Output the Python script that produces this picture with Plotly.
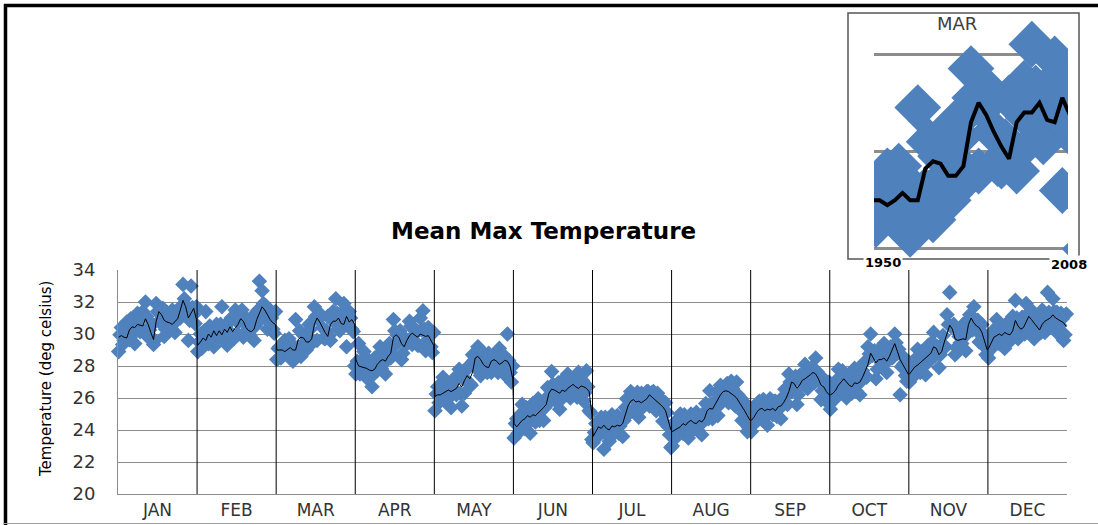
import plotly.graph_objects as go

# ---- data: monthly mean max temperature (deg C), 1950-2008 ----
# *_even: 1950, 1952, ..., 2008   *_odd: 1951, 1953, ..., 2007   *_avg: running mean at even years
years_even = list(range(1950, 2009, 2))
years_odd = list(range(1951, 2008, 2))
months = ["JAN", "FEB", "MAR", "APR", "MAY", "JUN", "JUL", "AUG", "SEP", "OCT", "NOV", "DEC"]

jan_even = [28.9, 30.4, 29.6, 30.75, 29.65, 30.65, 29.4, 31.3, 30.15, 31.4, 32.0, 29.8, 30.5, 29.35, 31.9,
            30.8, 31.4, 29.85, 31.35, 30.5, 31.5, 30.1, 31.25, 31.0, 33.1, 31.6, 29.6, 33.0, 31.2, 31.7]
jan_odd = [29.95, 29.35, 30.3, 29.9, 30.95, 30.0, 30.7, 30.4, 31.0, 30.2, 31.1, 30.25, 30.6, 29.6, 31.4,
           31.3, 31.6, 30.3, 30.9, 30.35, 31.2, 30.8, 31.6, 31.2, 32.2, 31.75, 30.85, 31.65, 30.65]
jan_avg = [29.8, 29.9, 29.8, 29.75, 30.25, 30.45, 30.4, 30.6, 30.55, 30.5, 30.95, 30.6, 30.1, 29.65, 30.8,
           31.4, 31.2, 30.85, 30.75, 30.7, 30.6, 30.8, 30.95, 31.5, 32.1, 31.7, 31.0, 31.3, 31.6, 30.9]

feb_even = [28.9, 30.0, 29.55, 31.4, 29.4, 30.0, 29.2, 30.6, 29.8, 31.7, 30.3, 29.3, 30.85, 29.85, 31.5,
            30.0, 31.15, 29.8, 31.0, 30.0, 31.05, 29.6, 31.2, 33.3, 32.7, 31.4, 30.3, 31.4, 30.3, 31.4]
feb_odd = [29.5, 29.1, 30.2, 29.7, 30.5, 29.6, 30.25, 29.85, 30.6, 29.6, 30.5, 30.2, 31.0, 29.7, 30.8,
           30.8, 31.5, 30.1, 30.5, 29.9, 30.7, 30.5, 31.5, 30.9, 31.9, 31.75, 30.75, 31.0, 30.05]
feb_avg = [29.3, 29.5, 29.75, 29.6, 30.0, 29.8, 30.2, 29.9, 30.2, 29.95, 30.3, 30.1, 30.45, 30.15, 30.4,
           30.6, 30.95, 30.8, 30.4, 30.2, 30.15, 30.3, 30.9, 31.35, 31.7, 31.5, 31.2, 30.9, 30.7, 30.6]

mar_even = [28.4, 29.2, 28.6, 29.6, 28.9, 29.4, 28.3, 30.9, 29.2, 28.6, 29.9, 29.0, 30.6, 29.4, 31.7,
            29.6, 31.0, 30.4, 29.7, 31.1, 29.6, 31.4, 32.2, 30.3, 31.3, 31.9, 29.2, 31.4, 30.3, 28.0]
mar_odd = [29.1, 28.5, 29.45, 28.85, 29.7, 28.7, 29.2, 29.1, 30.2, 29.3, 29.9, 29.4, 30.3, 29.55, 31.1,
           30.9, 31.2, 29.75, 30.2, 29.9, 31.2, 30.7, 31.3, 30.2, 30.9, 31.25, 30.6, 31.0, 30.15]
mar_avg = [29.0, 29.0, 29.0, 28.9, 29.0, 29.15, 29.0, 29.0, 29.65, 29.8, 29.75, 29.5, 29.5, 29.7, 30.6,
           31.0, 30.75, 30.4, 30.1, 29.85, 30.6, 30.8, 30.8, 31.0, 30.65, 30.6, 31.1, 30.75, 30.9, 30.6]

apr_even = [27.5, 29.4, 27.75, 28.9, 27.25, 27.95, 26.7, 28.5, 27.7, 29.2, 28.4, 27.5, 29.0, 28.5, 30.9,
            29.35, 30.0, 28.4, 29.8, 29.4, 30.8, 29.35, 30.2, 29.3, 31.0, 31.45, 28.95, 30.4, 29.2, 30.1]
apr_odd = [28.3, 27.5, 28.4, 27.8, 28.4, 27.3, 27.95, 27.75, 28.7, 27.85, 28.65, 28.35, 29.4, 28.7, 30.2,
           29.9, 30.2, 28.8, 29.6, 29.45, 30.5, 29.9, 30.25, 29.3, 30.25, 30.3, 29.6, 29.95, 28.85]
apr_avg = [28.4, 28.0, 27.95, 27.9, 27.85, 27.75, 27.7, 27.8, 28.1, 28.3, 28.4, 28.3, 28.6, 28.8, 29.8,
           29.95, 29.8, 29.4, 29.2, 29.6, 29.9, 30.05, 29.9, 29.8, 30.0, 29.9, 29.85, 29.9, 29.6, 29.3]

may_even = [25.2, 26.7, 26.0, 27.3, 25.75, 26.7, 25.4, 27.2, 26.2, 27.8, 25.5, 26.3, 27.8, 26.9, 28.7,
            27.9, 29.2, 27.4, 28.7, 27.75, 28.8, 27.6, 28.7, 27.8, 29.1, 28.1, 27.45, 30.0, 27.6, 28.0]
may_odd = [26.25, 25.7, 26.75, 26.2, 27.0, 26.05, 26.65, 26.35, 27.25, 26.3, 27.2, 27.15, 28.0, 26.8, 28.35,
           28.55, 29.1, 27.75, 28.2, 27.6, 28.6, 28.25, 28.75, 27.6, 28.45, 28.7, 28.0, 28.35, 27.0]
may_avg = [26.1, 26.2, 26.2, 26.3, 26.35, 26.5, 26.4, 26.5, 26.6, 26.9, 26.7, 27.1, 27.4, 27.2, 27.6,
           28.5, 28.6, 28.4, 28.1, 27.95, 27.9, 28.3, 28.4, 28.3, 28.1, 28.2, 28.35, 28.3, 28.0, 27.2]

jun_even = [23.5, 24.7, 24.2, 25.6, 24.1, 25.1, 23.8, 25.65, 24.5, 25.95, 25.2, 24.6, 26.0, 26.0, 27.65,
            25.9, 26.6, 25.3, 27.1, 26.2, 27.5, 26.0, 27.15, 26.2, 27.6, 26.65, 25.8, 27.7, 25.2, 23.4]
jun_odd = [24.4, 23.8, 25.0, 24.55, 25.4, 24.45, 25.1, 24.7, 25.5, 24.6, 25.6, 25.4, 26.65, 25.8, 26.85,
           26.45, 26.95, 25.9, 26.65, 26.2, 27.15, 26.7, 27.2, 26.05, 27.0, 27.1, 26.35, 26.7, 25.1]
jun_avg = [24.4, 24.2, 24.4, 24.6, 24.7, 24.9, 24.8, 24.95, 24.9, 25.05, 25.2, 25.4, 25.6, 26.3, 26.55,
           26.5, 26.4, 26.3, 26.5, 26.4, 26.6, 26.7, 26.85, 26.7, 26.6, 26.75, 26.7, 26.6, 26.4, 25.0]

jul_even = [23.2, 24.4, 24.0, 24.8, 22.8, 24.3, 23.3, 24.95, 23.8, 24.9, 24.25, 23.6, 25.4, 25.2, 26.4,
            25.3, 25.95, 24.8, 26.3, 25.65, 26.4, 25.5, 26.35, 25.4, 26.3, 25.5, 24.55, 25.7, 24.2, 22.9]
jul_odd = [23.85, 23.55, 24.65, 24.1, 24.8, 23.65, 24.3, 24.0, 24.75, 23.8, 24.6, 24.6, 25.95, 25.05, 26.15,
           25.85, 26.35, 25.25, 25.95, 25.6, 26.4, 26.0, 26.4, 25.2, 26.0, 25.9, 25.0, 25.1, 23.7]
jul_avg = [23.6, 23.9, 24.2, 24.1, 24.3, 24.1, 24.0, 24.25, 24.2, 24.3, 24.25, 24.4, 25.0, 25.5, 25.8,
           25.9, 25.75, 25.8, 25.7, 25.85, 25.95, 26.2, 26.05, 25.9, 25.75, 25.6, 25.45, 25.2, 24.6, 24.0]

aug_even = [23.0, 24.5, 23.9, 25.0, 23.8, 24.5, 23.5, 25.0, 24.05, 25.1, 24.6, 23.7, 25.1, 24.9, 26.45,
            24.7, 25.8, 24.9, 26.8, 26.2, 26.8, 25.7, 27.05, 25.65, 27.0, 25.65, 24.6, 25.7, 23.9, 25.4]
aug_odd = [24.05, 23.55, 24.65, 24.2, 24.95, 24.0, 24.75, 24.35, 24.9, 24.0, 24.85, 24.5, 25.65, 24.7, 25.6,
           25.45, 26.35, 25.55, 26.5, 26.1, 26.9, 26.25, 26.6, 25.5, 26.2, 26.0, 25.05, 25.25, 24.15]
aug_avg = [23.9, 24.0, 24.1, 24.2, 24.4, 24.3, 24.5, 24.6, 24.45, 24.4, 24.6, 24.5, 24.7, 25.2, 25.35,
           25.3, 25.6, 25.9, 26.2, 26.4, 26.45, 26.4, 26.3, 26.15, 26.0, 25.75, 25.5, 25.2, 24.9, 24.6]

sep_even = [23.9, 25.3, 24.9, 25.8, 24.75, 25.4, 24.3, 25.95, 24.95, 25.8, 25.45, 24.7, 26.1, 25.7, 27.5,
            26.4, 27.1, 25.6, 27.4, 26.9, 28.1, 26.6, 27.75, 27.1, 28.5, 27.1, 25.9, 27.2, 26.0, 27.0]
sep_odd = [24.8, 24.45, 25.7, 25.2, 25.9, 24.85, 25.5, 25.1, 25.8, 24.85, 25.8, 25.5, 26.55, 25.6, 27.0,
           26.95, 27.35, 26.2, 27.15, 26.85, 27.75, 27.3, 27.9, 26.95, 27.65, 27.4, 26.45, 26.75, 25.7]
sep_avg = [24.6, 24.8, 25.1, 25.3, 25.35, 25.2, 25.3, 25.25, 25.35, 25.2, 25.45, 25.5, 25.7, 26.0, 26.4,
           27.0, 26.9, 26.6, 26.8, 27.1, 27.2, 27.3, 27.45, 27.6, 27.5, 27.2, 26.8, 26.7, 26.4, 26.2]

oct_even = [25.3, 26.8, 26.3, 27.8, 26.4, 27.4, 26.0, 27.5, 26.3, 27.85, 26.9, 26.2, 27.7, 27.4, 29.2,
            30.0, 28.7, 27.2, 29.0, 28.2, 29.4, 27.6, 28.9, 28.5, 30.0, 28.8, 26.2, 28.6, 27.4, 28.3]
oct_odd = [26.35, 25.9, 27.15, 26.8, 27.7, 26.7, 27.1, 26.55, 27.3, 26.45, 27.25, 27.05, 28.2, 27.3, 28.75,
           28.65, 28.95, 27.8, 28.6, 28.15, 28.9, 28.35, 29.2, 28.6, 29.45, 29.05, 27.95, 28.15, 27.05]
oct_avg = [26.2, 26.3, 26.5, 26.8, 27.0, 27.2, 27.0, 26.8, 26.7, 26.95, 26.9, 27.0, 27.3, 27.7, 28.1,
           28.8, 28.5, 28.2, 28.4, 28.4, 28.5, 28.3, 28.6, 29.0, 29.4, 28.9, 28.4, 28.1, 27.8, 27.5]

nov_even = [27.0, 28.2, 27.75, 29.05, 27.6, 28.55, 27.45, 29.3, 28.4, 30.1, 29.1, 27.9, 29.3, 29.2, 31.2,
            32.6, 30.5, 28.7, 30.2, 29.45, 30.6, 28.95, 30.9, 30.5, 31.7, 30.4, 29.5, 30.6, 29.2, 29.8]
nov_odd = [27.7, 27.35, 28.5, 28.0, 28.9, 28.0, 28.75, 28.5, 29.5, 28.65, 29.2, 28.7, 29.9, 29.2, 30.6,
           30.45, 30.6, 29.15, 29.85, 29.4, 30.2, 30.0, 31.2, 30.25, 30.9, 30.85, 29.95, 30.05, 28.7]
nov_avg = [27.5, 27.7, 27.95, 28.05, 28.2, 28.35, 28.45, 28.6, 28.8, 29.2, 29.1, 28.7, 28.9, 29.5, 30.1,
           30.55, 30.3, 29.7, 29.6, 29.65, 29.7, 29.65, 30.6, 31.0, 30.7, 30.5, 30.4, 30.1, 29.6, 29.0]

dec_even = [28.5, 30.0, 29.6, 30.9, 29.4, 30.1, 29.1, 30.7, 29.55, 31.1, 32.1, 29.7, 30.7, 30.1, 31.9,
            30.5, 31.1, 29.7, 31.1, 30.05, 31.5, 30.1, 32.6, 30.5, 32.2, 30.9, 30.0, 31.3, 29.6, 31.25]
dec_odd = [29.4, 29.15, 30.35, 29.85, 30.55, 29.6, 30.25, 29.8, 30.6, 30.0, 31.0, 30.3, 31.05, 30.0, 31.25,
           31.0, 31.4, 30.1, 30.6, 30.1, 31.2, 30.75, 31.35, 30.5, 31.4, 31.35, 30.55, 30.95, 29.95]
dec_avg = [29.1, 29.5, 29.8, 29.9, 30.0, 29.9, 30.1, 30.0, 29.95, 30.2, 30.85, 30.5, 30.3, 30.4, 30.8,
           31.1, 30.9, 30.7, 30.5, 30.25, 30.6, 30.8, 30.9, 31.0, 31.2, 31.0, 30.9, 30.8, 30.7, 30.45]

month_even = [jan_even, feb_even, mar_even, apr_even, may_even, jun_even,
              jul_even, aug_even, sep_even, oct_even, nov_even, dec_even]
month_odd = [jan_odd, feb_odd, mar_odd, apr_odd, may_odd, jun_odd,
             jul_odd, aug_odd, sep_odd, oct_odd, nov_odd, dec_odd]
month_avg = [jan_avg, feb_avg, mar_avg, apr_avg, may_avg, jun_avg,
             jul_avg, aug_avg, sep_avg, oct_avg, nov_avg, dec_avg]

# ---- styling ----
W, H = 1098, 525
BLUE = "#4F81BD"
GRID = "#8c8c8c"
FONT = "DejaVu Sans"
FIRST, LAST = years_even[0], years_even[-1]
N_YEARS = LAST - FIRST + 1


def fx(px):
    return px / W


def fy(px):
    return 1 - px / H


def by_year(even, odd):
    """Merge the even- and odd-year lists into (year, value) pairs."""
    return list(zip(years_even, even)) + list(zip(years_odd, odd))


def month_x(m, year):
    """Each month occupies one unit of the x axis; its years run left to right."""
    return m + (year - FIRST + 0.5) / N_YEARS


x_pts, y_pts, x_avg, y_avg = [], [], [], []
for m in range(12):
    for yr, v in by_year(month_even[m], month_odd[m]):
        x_pts.append(month_x(m, yr))
        y_pts.append(v)
    for yr, v in zip(years_even, month_avg[m]):
        x_avg.append(month_x(m, yr))
        y_avg.append(v)

mar_pairs = sorted(by_year(mar_even, mar_odd))

fig = go.Figure()

fig.add_trace(go.Scatter(
    x=x_pts, y=y_pts, mode="markers", cliponaxis=False,
    marker=dict(symbol="diamond", size=12, color=BLUE, line=dict(width=0)),
    xaxis="x", yaxis="y", hoverinfo="skip"))
fig.add_trace(go.Scatter(
    x=x_avg, y=y_avg, mode="lines",
    line=dict(color="black", width=1),
    xaxis="x", yaxis="y", hoverinfo="skip"))

# inset: March across the years
fig.add_trace(go.Scatter(
    x=[p[0] for p in mar_pairs], y=[p[1] for p in mar_pairs], mode="markers",
    marker=dict(symbol="diamond", size=36, color=BLUE, line=dict(width=0)),
    xaxis="x2", yaxis="y2", hoverinfo="skip"))
fig.add_trace(go.Scatter(
    x=years_even, y=mar_avg, mode="lines",
    line=dict(color="black", width=4),
    xaxis="x2", yaxis="y2", hoverinfo="skip"))

shapes = []
# month separators
for k in range(1, 12):
    shapes.append(dict(type="line", xref="x", yref="y", x0=k, x1=k, y0=20, y1=34.25,
                       line=dict(color="black", width=1), layer="above"))
# inset frame
shapes.append(dict(type="rect", xref="paper", yref="paper",
                   x0=fx(848), x1=fx(1079), y0=fy(259), y1=fy(13),
                   line=dict(color="#555555", width=1.5), layer="above"))
# outer frame
shapes.append(dict(type="line", xref="paper", yref="paper", x0=fx(4), x1=1, y0=fy(5.5), y1=fy(5.5),
                   line=dict(color="black", width=3.5)))
shapes.append(dict(type="line", xref="paper", yref="paper", x0=fx(5.5), x1=fx(5.5), y0=0, y1=fy(4),
                   line=dict(color="black", width=3.5)))
shapes.append(dict(type="line", xref="paper", yref="paper", x0=fx(4), x1=1, y0=fy(523.5), y1=fy(523.5),
                   line=dict(color="#a0a0a0", width=1)))

annotations = [
    dict(text="<b>Mean Max Temperature</b>", x=fx(543), y=fy(231), xref="paper", yref="paper",
         xanchor="center", yanchor="middle", showarrow=False,
         font=dict(family=FONT, size=23, color="black")),
    dict(text="Temperature (deg celsius)", x=fx(46), y=fy(379), xref="paper", yref="paper",
         xanchor="center", yanchor="middle", showarrow=False, textangle=-90,
         font=dict(family=FONT, size=15, color="black")),
    dict(text="MAR", x=fx(957), y=fy(23), xref="paper", yref="paper",
         xanchor="center", yanchor="middle", showarrow=False,
         font=dict(family=FONT, size=18, color="#404040")),
    dict(text="<b>1950</b>", x=fx(883), y=fy(262), xref="paper", yref="paper",
         xanchor="center", yanchor="middle", showarrow=False, bgcolor="white",
         font=dict(family=FONT, size=13, color="black")),
    dict(text="<b>2008</b>", x=fx(1069), y=fy(264), xref="paper", yref="paper",
         xanchor="center", yanchor="middle", showarrow=False, bgcolor="white",
         font=dict(family=FONT, size=13, color="black")),
]

fig.update_layout(
    width=W, height=H,
    margin=dict(l=0, r=0, t=0, b=0),
    paper_bgcolor="white", plot_bgcolor="white",
    showlegend=False,
    xaxis=dict(domain=[fx(118), fx(1067)], range=[0, 12],
               tickvals=[m + 0.5 for m in range(12)], ticktext=months,
               showgrid=False, zeroline=False, showline=True, linecolor=GRID, linewidth=1,
               ticks="", ticklabelstandoff=1, automargin=False,
               tickfont=dict(family=FONT, size=17, color="#333333")),
    yaxis=dict(domain=[1 - 494 / H, 1 - 270 / H], range=[20, 34], tick0=20, dtick=2,
               showgrid=True, gridcolor=GRID, gridwidth=1, zeroline=False,
               showline=True, linecolor=GRID, linewidth=1,
               ticks="", ticklabelstandoff=18, automargin=False,
               tickfont=dict(family=FONT, size=18, color="#333333")),
    xaxis2=dict(domain=[fx(874), fx(1068)], range=[1952.5, 2003.5], anchor="y2",
                showticklabels=False, showgrid=False, zeroline=False, showline=False,
                automargin=False),
    yaxis2=dict(domain=[1 - 258 / H, 1 - 13 / H], range=[27.815, 32.841], anchor="x2",
                tickvals=[28, 30, 32], showticklabels=False, automargin=False,
                showgrid=True, gridcolor=GRID, gridwidth=3, zeroline=False, showline=False),
    shapes=shapes,
    annotations=annotations,
)

fig.write_html(
    "out.html",
    post_script="document.body.style.margin='0';document.body.style.padding='0';"
                "document.body.style.overflow='hidden';",
)
